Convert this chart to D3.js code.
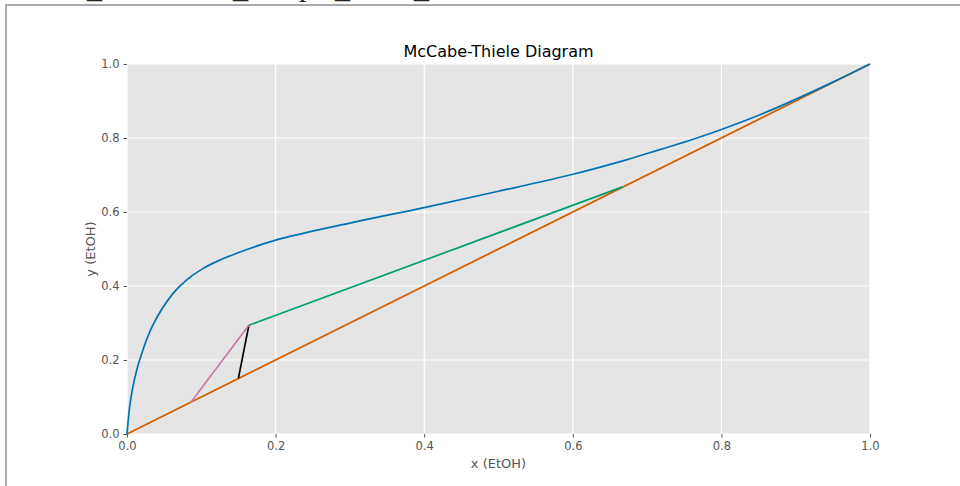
<!DOCTYPE html>
<html>
<head>
<meta charset="utf-8">
<script src="https://cdn.jsdelivr.net/npm/d3@7"></script>
<style>
  body { margin: 0; background: #fff; }
  svg { display: block; font-family: "DejaVu Sans", sans-serif; }
</style>
</head>
<body>
<svg id="chart" width="960" height="486"></svg>
<script>
// equilibrium curve (ethanol-water)
const eqX = [0, 0.0036, 0.008, 0.017, 0.035, 0.062, 0.08, 0.102, 0.125, 0.147, 0.2,
  0.3, 0.4, 0.5, 0.6, 0.672, 0.716, 0.761, 0.8, 0.851, 0.896, 0.95, 1.0];
const eqY = [0, 0.074, 0.128, 0.2, 0.295, 0.38, 0.416, 0.447, 0.47, 0.488, 0.524,
  0.57, 0.612, 0.656, 0.702, 0.741, 0.768, 0.796, 0.823, 0.862, 0.901, 0.951, 1.0];

const diagX = [0, 1];
const rectX = [0.164, 0.667];   // green operating line
const rectY = [0.294, 0.668];
const qX = [0.150, 0.164];      // black q-line
const qY = [0.151, 0.294];
const stripX = [0.086, 0.164];  // pink stripping line
const stripY = [0.086, 0.294];

const tickVals = [0, 0.2, 0.4, 0.6, 0.8, 1.0];

const svg = d3.select("#chart");

// frame of the page the figure sits in
svg.append("rect")
  .attr("x", 6).attr("y", 5).attr("width", 970).attr("height", 500)
  .attr("fill", "none").attr("stroke", "#a9a9a9").attr("stroke-width", 2);

// cut-off text above the frame
const clipTxt = svg.append("g")
  .attr("font-family", "Liberation Serif, serif")
  .attr("font-size", 30).attr("fill", "#222");
[[87, "_"], [233, "_"], [335, "_"], [414, "_"]].forEach(([x, t]) => {
  clipTxt.append("text").attr("x", x).attr("y", -2.2).text(t);
});
clipTxt.append("text").attr("x", 299).attr("y", -4).text("p");

const margin = { left: 127, top: 64, right: 90, bottom: 52 };
const innerW = 960 - margin.left - margin.right;
const innerH = 486 - margin.top - margin.bottom;

const x = d3.scaleLinear().domain([0, 1]).range([0, innerW]);
const y = d3.scaleLinear().domain([0, 1]).range([innerH, 0]);

const g = svg.append("g").attr("transform", `translate(${margin.left},${margin.top})`);

g.append("rect").attr("width", innerW).attr("height", innerH).attr("fill", "#e5e5e5");

// grid
g.append("g").selectAll("line").data(tickVals).join("line")
  .attr("x1", d => x(d)).attr("x2", d => x(d))
  .attr("y1", 0).attr("y2", innerH)
  .attr("stroke", "#fff").attr("stroke-width", 1.2);
g.append("g").selectAll("line").data(tickVals).join("line")
  .attr("y1", d => y(d)).attr("y2", d => y(d))
  .attr("x1", 0).attr("x2", innerW)
  .attr("stroke", "#fff").attr("stroke-width", 1.2);

// axes
const xAxisG = g.append("g").attr("transform", `translate(0,${innerH})`)
  .call(d3.axisBottom(x).tickValues(tickVals).tickFormat(d3.format(".1f")).tickSize(3.5).tickPadding(4.5));
const yAxisG = g.append("g")
  .call(d3.axisLeft(y).tickValues(tickVals).tickFormat(d3.format(".1f")).tickSize(3.5).tickPadding(4));
[xAxisG, yAxisG].forEach(a => {
  a.select(".domain").remove();
  a.selectAll("line").attr("stroke", "#555");
  a.selectAll("text").attr("fill", "#555").attr("font-size", 11.5).attr("font-family", "DejaVu Sans, sans-serif");
});

const line = d3.line().x(d => x(d[0])).y(d => y(d[1])).curve(d3.curveCatmullRom.alpha(0.5));

function drawLine(xs, ys, color) {
  g.append("path")
    .attr("d", line(d3.zip(xs, ys)))
    .attr("fill", "none").attr("stroke", color).attr("stroke-width", 1.7)
    .attr("stroke-linejoin", "round");
}

drawLine(diagX, diagX, "#d55e00");
drawLine(eqX, eqY, "#0072b2");
drawLine(rectX, rectY, "#009e73");
drawLine(qX, qY, "#000000");
drawLine(stripX, stripY, "#cc79a7");

// titles
svg.append("text").attr("x", margin.left + innerW / 2).attr("y", 57)
  .attr("text-anchor", "middle").attr("font-size", 16).attr("fill", "#000")
  .text("McCabe-Thiele Diagram");
svg.append("text").attr("x", margin.left + innerW / 2).attr("y", 468)
  .attr("text-anchor", "middle").attr("font-size", 13).attr("fill", "#555")
  .text("x (EtOH)");
svg.append("text")
  .attr("transform", `translate(95,${margin.top + innerH / 2}) rotate(-90)`)
  .attr("text-anchor", "middle").attr("font-size", 13).attr("fill", "#555")
  .text("y (EtOH)");
</script>
</body>
</html>
